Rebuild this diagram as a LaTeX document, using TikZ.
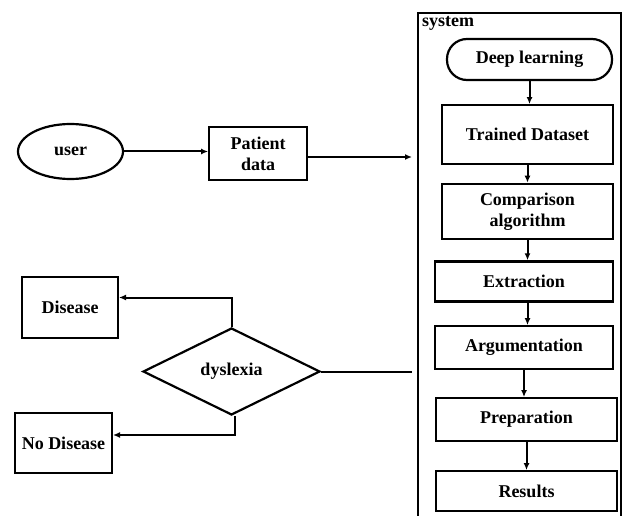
\documentclass[tikz,border=0pt]{standalone}
\usepackage{fontspec}
\setmainfont{Liberation Serif}
\usetikzlibrary{shapes.geometric, arrows.meta, positioning}

\begin{document}
\begin{tikzpicture}[
    x=1pt, y=-1pt,
    box/.style={
        rectangle,
        draw=black,
        line width=2pt,
        inner sep=2pt,
        font=\fontsize{18}{21}\selectfont\bfseries,
        align=center
    },
    startstop/.style={
        box,
        rounded corners=20pt,
        line width=2.2pt
    },
    user/.style={
        ellipse,
        draw=black,
        line width=2.2pt,
        inner sep=0pt,
        font=\fontsize{18}{21}\selectfont\bfseries
    },
    decision/.style={
        diamond,
        draw=black,
        line width=2.2pt,
        inner sep=0pt,
        font=\fontsize{18}{21}\selectfont\bfseries
    },
    edge/.style={-{Latex[length=7pt,width=6pt]}, line width=2pt, draw=black},
    plain/.style={line width=2pt, draw=black}
]
    \useasboundingbox (0,0) rectangle (629,516);

    % Input side
    \node[user, minimum width=105pt, minimum height=55pt] (usr) at (70.5,151.5) {user};
    \node[box, right=84pt of usr, yshift=-2pt, minimum width=98pt, minimum height=53pt] (pat) {Patient\\data};

    % System container
    \draw[line width=1.6pt] (418,516) |- (621,13) -- (621,516);
    \node[anchor=north west, inner sep=1pt, font=\fontsize{18}{21}\selectfont\bfseries] (sys) at (421,15) {system};
    \coordinate (sysin) at (412,157);

    % System steps (top to bottom)
    \node[startstop, minimum width=165pt, minimum height=41pt] (deep) at (529.5,59.5) {Deep learning};
    \node[box, below=23pt of deep, xshift=-2pt, line width=1.6pt, minimum width=171pt, minimum height=59pt] (trn) {Trained Dataset};
    \node[box, below=18pt of trn, line width=2.6pt, minimum width=171pt, minimum height=55pt] (cmp) {Comparison\\algorithm};
    \node[box, below=20pt of cmp, xshift=-3.5pt, line width=2.8pt, minimum width=178pt, minimum height=40pt] (ext) {Extraction};
    \node[box, below=22pt of ext, minimum width=178pt, minimum height=43pt] (arg) {Argumentation};
    \node[box, below=27pt of arg, xshift=2.5pt, minimum width=181pt, minimum height=43pt] (prp) {Preparation};
    \node[box, below=28pt of prp, minimum width=181pt, minimum height=40pt] (res) {Results};

    % Decision side
    \node[decision, minimum width=177pt, minimum height=87pt] (dys) at (231.5,371.5) {dyslexia};
    \node[box, minimum width=96pt, minimum height=61pt] (dis) at (70,307.5) {Disease};
    \node[box, minimum width=97pt, minimum height=60pt] (nodis) at (63.5,443) {No Disease};

    % Input flow
    \draw[edge] (usr.east) -- (usr.east -| pat.west);
    \draw[edge] (pat.east |- sysin) -- (sysin);

    % System flow
    \draw[edge] (deep) -- (deep |- trn.north);
    \draw[edge] (trn) -- (trn |- cmp.north);
    \draw[edge] (cmp) -- (cmp |- ext.north);
    \draw[edge] ([xshift=3.5pt]ext.south) -- ([xshift=3.5pt]arg.north);
    \draw[edge] (arg) -- (arg |- prp.north);
    \draw[edge] (prp) -- (res);

    % Outcomes
    \draw[plain] (dys.east) -- (dys.east -| sysin);
    \draw[edge] (dys.north) |- ([yshift=10pt]dis.east);
    \draw[edge] ([xshift=3pt]dys.south) |- ([yshift=8pt]nodis.east);
\end{tikzpicture}
\end{document}
